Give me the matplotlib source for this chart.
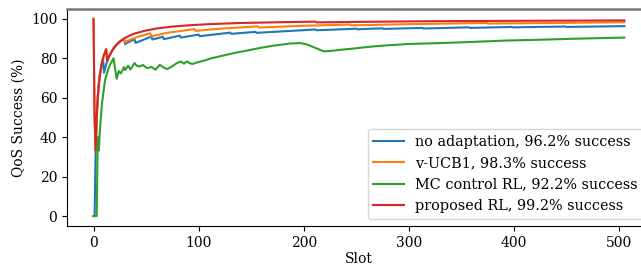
import matplotlib
matplotlib.use("Agg")
import matplotlib.pyplot as plt

plt.rcParams['font.family'] = ['DejaVu Serif']
plt.rcParams['font.size'] = 10

# ---- data ----
red_x = [0, 1, 2, 3, 4, 5, 6, 8, 10, 12, 13, 15, 18, 22, 26, 30, 35, 40, 50, 60,
         75, 90, 110, 140, 170, 211, 212, 260, 320, 400, 505]
red_y = [100, 50, 33.3, 50, 60, 66.7, 71.4, 77.8, 81.8, 84.6, 78.6, 81.3, 84.2, 87.0,
         88.9, 90.3, 91.7, 92.7, 94.1, 95.1, 96.1, 96.7, 97.3, 97.9, 98.2, 98.6, 98.2,
         98.5, 98.8, 99.0, 99.2]

orange_x = [0, 1, 2, 3, 4, 5, 6, 8, 10, 12, 13, 15, 18, 22, 26, 29, 30, 32, 40, 54, 55,
            70, 96, 97, 120, 156, 157, 200, 244, 245, 300, 374, 375, 440, 505]
orange_y = [100, 50, 33.3, 50, 60, 66.7, 71.4, 77.8, 81.8, 84.6, 78.6, 81.3, 84.2, 87.0,
            88.9, 90.0, 88.0, 88.8, 90.5, 92.7, 91.1, 92.9, 94.8, 93.9, 95.0, 96.2, 95.6,
            96.5, 97.1, 96.7, 97.3, 97.9, 97.6, 97.9, 98.3]

blue_x = [0, 1, 2, 3, 4, 5, 6, 8, 9, 10, 12, 13, 15, 18, 22, 26, 29, 30, 32, 39, 40,
          55, 56, 66, 67, 82, 83, 100, 101, 130, 131, 154, 155, 211, 212, 250, 251,
          275, 276, 313, 314, 357, 358, 398, 399, 449, 450, 505]
blue_y = [0, 0, 33.3, 50, 60, 66.7, 71.4, 77.8, 80.0, 72.7, 76.9, 78.6, 81.3, 84.2,
          87.0, 88.9, 90.0, 87.1, 87.9, 89.6, 87.8, 91.0, 89.5, 90.9, 89.7, 91.5, 90.5,
          92.0, 91.2, 93.0, 92.4, 93.4, 92.9, 94.6, 94.2, 95.0, 94.7, 95.2, 94.9, 95.4,
          95.1, 95.7, 95.4, 95.9, 95.7, 96.1, 95.9, 96.3]

green_x = [0, 3, 4, 5, 6, 8, 11, 14, 16, 19, 22, 24, 26, 29, 30, 33, 35, 37, 39, 41,
           44, 47, 51, 55, 59, 63, 66, 70, 75, 79, 83, 86, 89, 91, 94, 98, 105, 112,
           118, 125, 135, 145, 158, 170, 180, 187, 197, 203, 210, 219, 227, 235, 245,
           255, 266, 280, 298, 315, 330, 360, 393, 425, 456, 480, 505]
green_y = [0, 0, 40, 33.3, 42.9, 57, 69, 74.5, 77, 80, 69.6, 73.5, 72.3, 75.5, 74.0,
           76.2, 74.3, 75.8, 77.6, 76.2, 75.9, 76.6, 75.0, 75.6, 74.2, 76.7, 75.5, 74.5,
           76.0, 77.5, 78.4, 77.3, 78.4, 77.6, 77.1, 77.8, 78.8, 80.0, 80.7, 81.6, 82.8,
           83.8, 85.2, 86.3, 87.0, 87.5, 87.7, 87.0, 85.5, 83.5, 83.8, 84.3, 84.8, 85.4,
           86.0, 86.6, 87.2, 87.5, 87.7, 88.3, 89.0, 89.4, 89.9, 90.2, 90.5]

labels = ["no adaptation, 96.2% success",
          "v-UCB1, 98.3% success",
          "MC control RL, 92.2% success",
          "proposed RL, 99.2% success"]

x_ticks = [0, 100, 200, 300, 400, 500]
y_ticks = [0, 20, 40, 60, 80, 100]

# ---- figure ----
fig = plt.figure(figsize=(6.41, 2.68), dpi=100)
ax = fig.add_axes([0.1045, 0.157, 0.911, 0.8095])

ax.plot(blue_x, blue_y, color='#1f77b4', lw=1.5, label=labels[0])
ax.plot(orange_x, orange_y, color='#ff7f0e', lw=1.5, label=labels[1])
ax.plot(green_x, green_y, color='#2ca02c', lw=1.5, label=labels[2])
ax.plot(red_x, red_y, color='#d62728', lw=1.5, label=labels[3])

ax.set_xlim(-25.25, 530.25)
ax.set_ylim(-5, 105)
ax.set_xticks(x_ticks)
ax.set_yticks(y_ticks)
ax.set_xlabel("Slot", labelpad=2)
ax.set_ylabel("QoS Success (%)")

ax.spines['top'].set_color('#777777')
ax.spines['top'].set_linewidth(1.8)

ax.legend(loc='lower right', fontsize=10.4, handlelength=2.1, labelspacing=0.5,
          borderaxespad=0.5)

fig.savefig("out.png", dpi=100)
